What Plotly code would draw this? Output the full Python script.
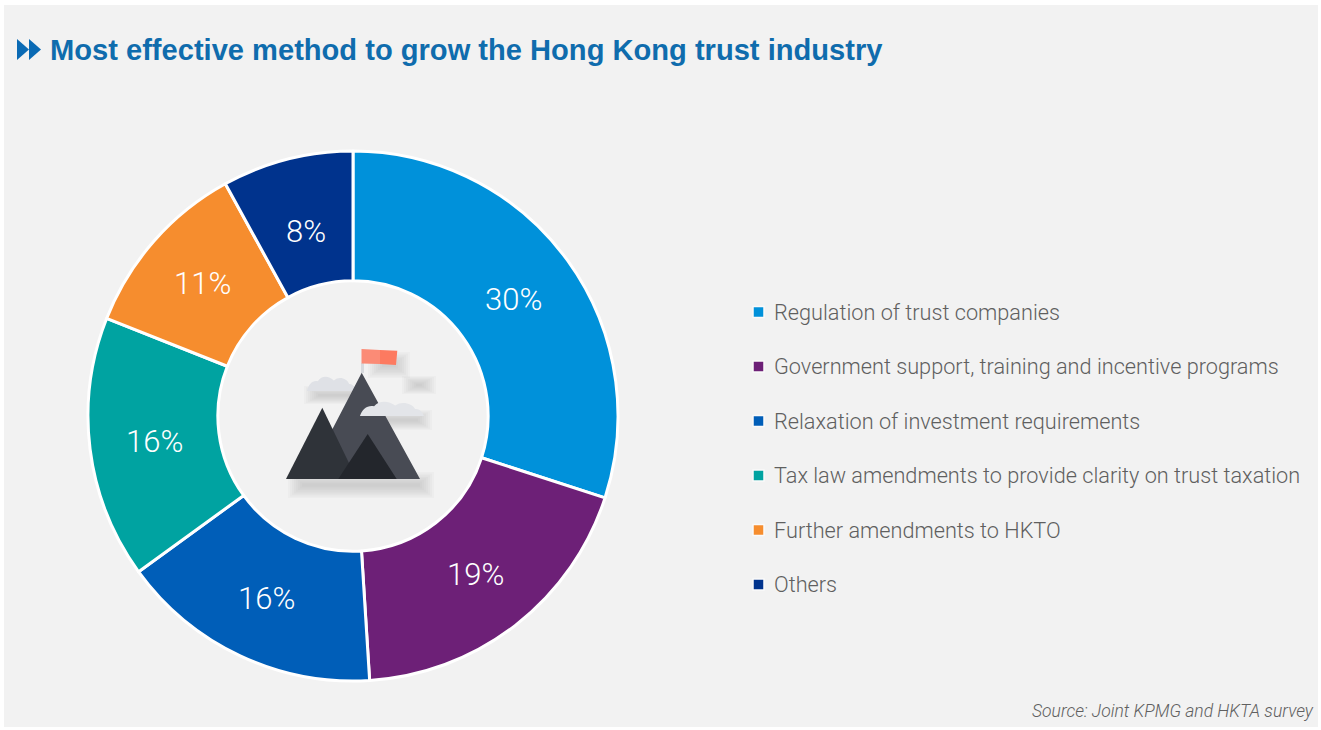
import math
import plotly.graph_objects as go

W, H = 1321, 730

# Survey results, in percent
categories = [
    "Regulation of trust companies",
    "Government support, training and incentive programs",
    "Relaxation of investment requirements",
    "Tax law amendments to provide clarity on trust taxation",
    "Further amendments to HKTO",
    "Others",
]
shares = [30, 19, 16, 16, 11, 8]
slice_colors = ["#0091da", "#6d2077", "#005eb8", "#00a3a1", "#f68d2e", "#00338d"]

title_text = "Most effective method to grow the Hong Kong trust industry"
source_text = "Source: Joint KPMG and HKTA survey"

BODY_FONT = "Roboto, sans-serif"
TITLE_BLUE = "#0f6cad"
PANEL = "#f2f2f2"

# Ring geometry in page pixels
CX, CY, R_OUT = 353, 416, 265
LABEL_R = [198, 200, 202, 200, 200, 190]


def px(x):
    return x / W


def py(y):
    return 1 - y / H


def path(points, close=True):
    """Build a paper-space SVG path from pixel commands."""
    parts = []
    for cmd, *xy in points:
        coords = [
            f"{px(v):.5f}" if i % 2 == 0 else f"{py(v):.5f}" for i, v in enumerate(xy)
        ]
        parts.append(cmd + " " + " ".join(coords))
    return " ".join(parts) + (" Z" if close else "")


def poly(vertices, fill, opacity=1.0, layer="above"):
    cmds = [("M", *vertices[0])] + [("L", *v) for v in vertices[1:]]
    return dict(
        type="path", xref="paper", yref="paper", path=path(cmds),
        fillcolor=fill, opacity=opacity, line=dict(width=0), layer=layer,
    )


def rect(x0, y0, x1, y1, fill, opacity=1.0, layer="above", line=None):
    return dict(
        type="rect", xref="paper", yref="paper",
        x0=px(x0), x1=px(x1), y0=py(y0), y1=py(y1),
        fillcolor=fill, opacity=opacity, layer=layer,
        line=line or dict(width=0),
    )


def soft_bar(x0, x1, y0, y1, steps=8, opacity=0.03):
    """Stacked translucent bars that read as a soft drop shadow."""
    dy = (y1 - y0) / (2 * steps)
    return [
        rect(x0 + i * 2, y0 + i * dy, x1 - i * 2, y1 - i * dy, "#555555", opacity)
        for i in range(steps)
    ]


def cloud(x0, x1, base, top, fill):
    w = x1 - x0
    h = base - top
    cmds = [
        ("M", x0, base),
        ("C", x0 + 0.03 * w, base - 0.5 * h, x0 + 0.12 * w, base - 0.8 * h, x0 + 0.22 * w, base - 0.7 * h),
        ("C", x0 + 0.3 * w, base - 1.15 * h, x0 + 0.45 * w, base - 1.1 * h, x0 + 0.55 * w, base - 0.75 * h),
        ("C", x0 + 0.65 * w, base - 1.1 * h, x0 + 0.82 * w, base - 0.9 * h, x0 + 0.86 * w, base - 0.5 * h),
        ("C", x0 + 0.92 * w, base - 0.55 * h, x0 + 0.98 * w, base - 0.3 * h, x1, base),
    ]
    return dict(
        type="path", xref="paper", yref="paper", path=path(cmds),
        fillcolor=fill, line=dict(width=0), layer="above",
    )


shapes = [rect(4, 5, 1318, 727, PANEL, layer="below")]

# Double arrow before the heading
shapes += [
    poly([(17, 39), (29, 49.5), (17, 60)], "#0a6ab4"),
    poly([(29, 39), (41, 49.5), (29, 60)], "#0a6ab4"),
]

# Mountain emblem in the hole of the ring
shapes += soft_bar(288, 434, 472, 498)
shapes += soft_bar(304, 366, 386, 404)
shapes += soft_bar(360, 432, 410, 430)
shapes += soft_bar(402, 436, 376, 394)
shapes += soft_bar(368, 410, 352, 378)
shapes += [
    poly([(361, 363), (364, 363), (364, 373), (361, 373)], "#d8dade"),
    poly([(361.5, 349), (380, 350), (380, 364), (361.5, 363.4)], "#fb8b76"),
    poly([(380, 350), (397.3, 350.7), (396, 365), (380, 364)], "#fd7a60"),
    cloud(307, 356, 391, 377, "#dfe1e6"),
    poly([(361.7, 372.7), (420, 479), (300, 479), (333, 428)], "#484b54"),
    poly([(322.3, 407.7), (356.7, 479), (286, 479)], "#2f3339"),
    poly([(367.7, 434), (396.7, 479), (338.3, 479)], "#23262c"),
    cloud(360, 424, 416, 402, "#e3e5e9"),
]

# Legend keys and labels, one row per category
annotations = []
row_ys = [312, 366.5, 421, 475.5, 530, 584.5]
for name, color, y in zip(categories, slice_colors, row_ys):
    shapes.append(
        rect(753, y - 5.5, 764, y + 5.5, color, line=dict(color="#fafafa", width=1.5))
    )
    annotations.append(
        dict(
            xref="paper", yref="paper", x=px(772), y=py(y), text=name,
            xanchor="left", yanchor="middle", showarrow=False,
            font=dict(family=BODY_FONT, size=21.7, weight=300, color="#5f5f5f"),
        )
    )

annotations.append(
    dict(
        xref="paper", yref="paper", x=px(1030), y=py(711),
        text=f"<i>{source_text}</i>", xanchor="left", yanchor="middle",
        showarrow=False,
        font=dict(family=BODY_FONT, size=17.5, weight=300, color="#606060"),
    )
)

# Percent labels sit at each slice's mid-angle, derived from the shares
total = sum(shares)
running = 0
for share, radius in zip(shares, LABEL_R):
    mid = math.radians((running + share / 2) / total * 360)
    running += share
    annotations.append(
        dict(
            xref="paper", yref="paper",
            x=px(CX + radius * math.sin(mid)), y=py(CY - radius * math.cos(mid)),
            text=f"{share}%", showarrow=False, xanchor="center", yanchor="middle",
            font=dict(family=BODY_FONT, size=31, weight=300, color="#ffffff"),
        )
    )

fig = go.Figure(
    go.Pie(
        labels=categories,
        values=shares,
        hole=0.51,
        sort=False,
        direction="clockwise",
        rotation=0,
        domain=dict(x=[px(CX - R_OUT), px(CX + R_OUT)], y=[py(CY + R_OUT), py(CY - R_OUT)]),
        marker=dict(colors=slice_colors, line=dict(color="#ffffff", width=3)),
        textinfo="none",
        showlegend=False,
        hoverinfo="label+percent",
    )
)

fig.update_layout(
    width=W,
    height=H,
    margin=dict(l=0, r=0, t=0, b=0),
    paper_bgcolor="#ffffff",
    plot_bgcolor="#ffffff",
    showlegend=False,
    title=dict(
        text=f"<b>{title_text}</b>",
        x=px(50), xanchor="left", xref="paper",
        y=py(50), yanchor="middle", yref="paper",
        font=dict(family="Liberation Sans, Arial, sans-serif", size=29.1, color=TITLE_BLUE),
    ),
    shapes=shapes,
    annotations=annotations,
)

fig.write_html("out.html")
